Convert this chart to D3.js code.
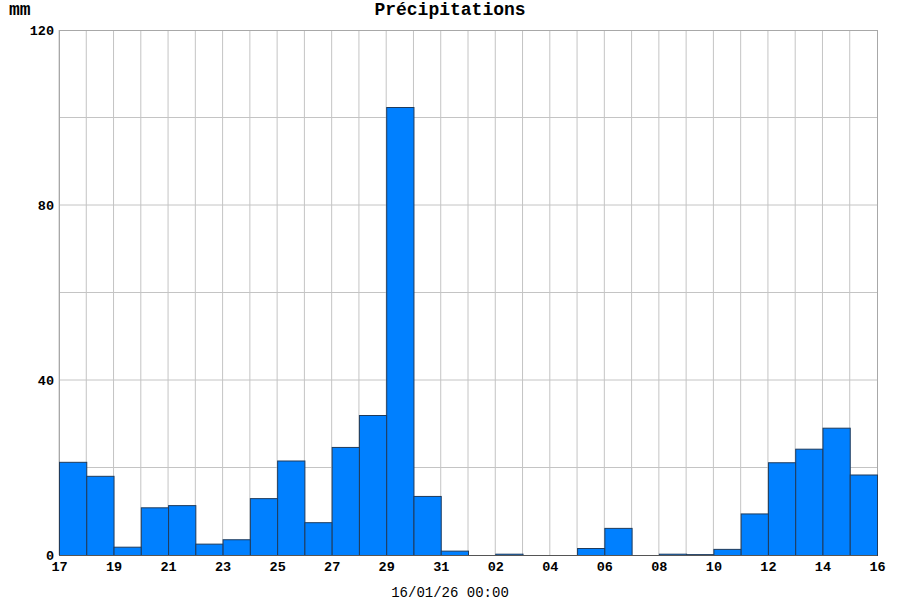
<!DOCTYPE html>
<html>
<head>
<meta charset="utf-8">
<script src="https://cdn.jsdelivr.net/npm/d3@7.9.0/dist/d3.min.js"></script>
<style>
  body { margin: 0; background: #fff; }
  svg text { font-family: "Liberation Mono", "Courier New", monospace; font-weight: bold; }
</style>
</head>
<body>
<div id="chart"></div>
<script>
// daily rainfall, one bar per day starting at the date
const days = [
  '2025-12-17', '2025-12-18', '2025-12-19', '2025-12-20', '2025-12-21',
  '2025-12-22', '2025-12-23', '2025-12-24', '2025-12-25', '2025-12-26',
  '2025-12-27', '2025-12-28', '2025-12-29', '2025-12-30', '2025-12-31',
  '2026-01-01', '2026-01-02', '2026-01-03', '2026-01-04', '2026-01-05',
  '2026-01-06', '2026-01-07', '2026-01-08', '2026-01-09', '2026-01-10',
  '2026-01-11', '2026-01-12', '2026-01-13', '2026-01-14', '2026-01-15'
];
const rain = [
  21.3, 18.1, 1.9, 10.9, 11.4, 2.6, 3.6, 13.0, 21.6, 7.5,
  24.7, 32.0, 102.4, 13.5, 1.0, 0, 0.3, 0, 0, 1.6,
  6.2, 0, 0.3, 0.2, 1.4, 9.5, 21.2, 24.3, 29.1, 18.4
];
const yTicks = [0, 40, 80, 120];
const yGrid = [20, 40, 60, 80, 100];
const title = 'Précipitations';
const unit = 'mm';
const xLabel = '16/01/26 00:00';

const parse = d3.utcParse('%Y-%m-%d');
const data = days.map((d, i) => ({ date: parse(d), value: rain[i] }));

const width = 900, height = 600;
const margin = { top: 30, right: 23, bottom: 45, left: 59 };

const svg = d3.select('#chart').append('svg')
  .attr('width', width)
  .attr('height', height);

const start = data[0].date;
const end = d3.utcDay.offset(data[data.length - 1].date, 1);

const x = d3.scaleUtc()
  .domain([start, end])
  .range([margin.left, width - margin.right]);

const y = d3.scaleLinear()
  .domain([0, 120])
  .range([height - margin.bottom, margin.top]);

// vertical grid, one per day
const dayLines = d3.utcDay.range(start, end);
svg.append('g')
  .selectAll('line')
  .data(dayLines)
  .join('line')
  .attr('x1', d => x(d)).attr('x2', d => x(d))
  .attr('y1', y(0)).attr('y2', y(120))
  .attr('stroke', '#c4c4c4')
  .attr('stroke-width', 1);

// horizontal grid
svg.append('g')
  .selectAll('line')
  .data(yGrid)
  .join('line')
  .attr('x1', x(start)).attr('x2', x(end))
  .attr('y1', d => y(d)).attr('y2', d => y(d))
  .attr('stroke', '#c4c4c4')
  .attr('stroke-width', 1);

// frame
svg.append('rect')
  .attr('x', x(start) + 0.5)
  .attr('y', y(120) + 0.5)
  .attr('width', x(end) - x(start))
  .attr('height', y(0) - y(120))
  .attr('fill', 'none')
  .attr('stroke', '#a8a8a8');

// bars
svg.append('g')
  .selectAll('rect')
  .data(data.filter(d => d.value > 0))
  .join('rect')
  .attr('x', d => x(d.date) + 0.5)
  .attr('y', d => y(d.value) + 0.5)
  .attr('width', d => x(d3.utcDay.offset(d.date, 1)) - x(d.date))
  .attr('height', d => y(0) - y(d.value))
  .attr('fill', '#0080ff')
  .attr('stroke', '#1f3b5c')
  .attr('stroke-width', 1);

// baseline
svg.append('line')
  .attr('x1', x(start)).attr('x2', x(end))
  .attr('y1', y(0) + 0.5).attr('y2', y(0) + 0.5)
  .attr('stroke', '#555');

// y labels
const yAxis = d3.axisLeft(y).tickValues(yTicks).tickSize(0).tickPadding(5);
const gy = svg.append('g')
  .attr('transform', `translate(${margin.left},0)`)
  .call(yAxis);
gy.select('.domain').remove();
gy.selectAll('text').attr('font-size', 13.5).attr('fill', '#000');

// x labels, every 48 h
const xTicks = d3.range(0, 31, 2).map(i => d3.utcDay.offset(start, i));
const xAxis = d3.axisBottom(x).tickValues(xTicks)
  .tickFormat(d3.utcFormat('%d')).tickSize(0).tickPadding(6);
const gx = svg.append('g')
  .attr('transform', `translate(0,${y(0)})`)
  .call(xAxis);
gx.select('.domain').remove();
gx.selectAll('text').attr('font-size', 13.5).attr('fill', '#000');

svg.append('text')
  .attr('x', width / 2).attr('y', 15)
  .attr('text-anchor', 'middle')
  .attr('font-size', 18)
  .text(title);

svg.append('text')
  .attr('x', 9).attr('y', 15)
  .attr('font-size', 18)
  .text(unit);

svg.append('text')
  .attr('x', width / 2).attr('y', 597)
  .attr('text-anchor', 'middle')
  .attr('font-size', 14)
  .style('font-weight', 'normal')
  .text(xLabel);
</script>
</body>
</html>
